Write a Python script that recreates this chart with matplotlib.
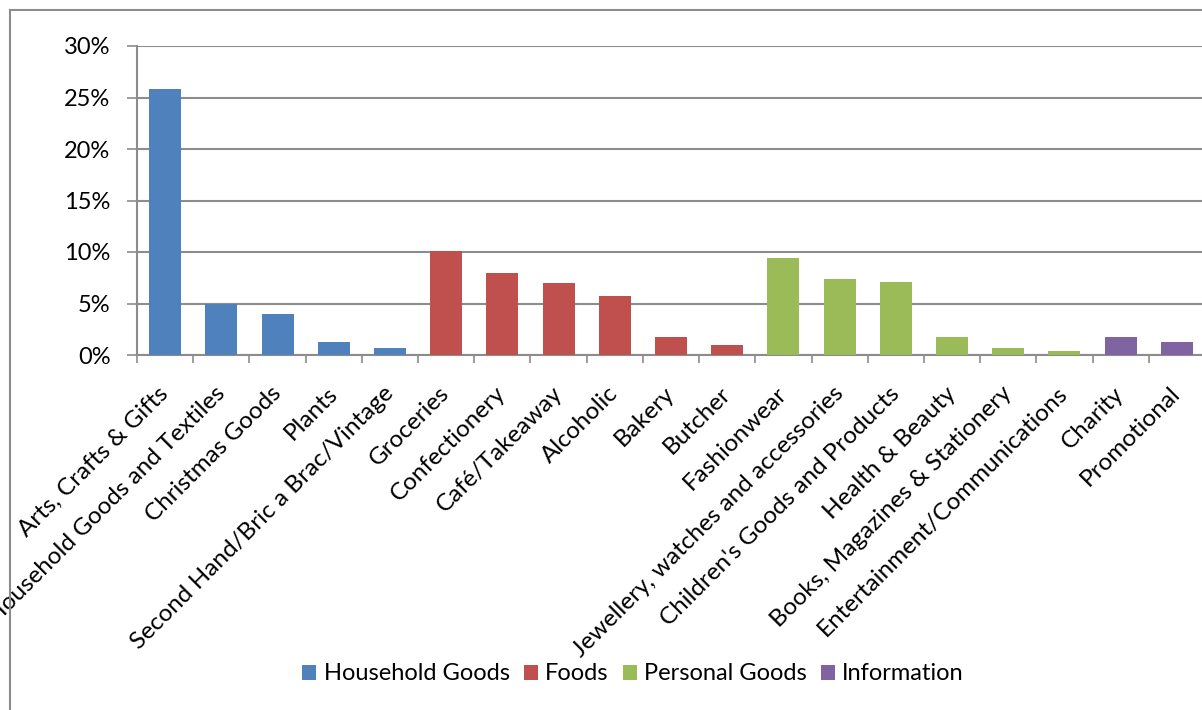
import matplotlib
matplotlib.use("Agg")
import matplotlib.pyplot as plt
from matplotlib.lines import Line2D
from matplotlib.patches import Patch

plt.rcParams['font.family'] = ['Lato', 'DejaVu Sans']

categories = [
    "Arts, Crafts & Gifts", "Household Goods and Textiles", "Christmas Goods",
    "Plants", "Second Hand/Bric a Brac/Vintage", "Groceries", "Confectionery",
    "Café/Takeaway", "Alcoholic", "Bakery", "Butcher", "Fashionwear",
    "Jewellery, watches and accessories", "Children's Goods and Products",
    "Health & Beauty", "Books, Magazines & Stationery",
    "Entertainment/Communications", "Charity", "Promotional",
]
values = [25.8, 5.0, 4.0, 1.3, 0.7, 10.1, 8.0, 7.0, 5.7, 1.7, 1.0,
          9.4, 7.4, 7.1, 1.7, 0.7, 0.35, 1.7, 1.3]
groups = ["Household Goods"] * 5 + ["Foods"] * 6 + ["Personal Goods"] * 6 + ["Information"] * 2
group_names = ["Household Goods", "Foods", "Personal Goods", "Information"]
group_colors = {"Household Goods": "#4f81bd", "Foods": "#c0504d",
                "Personal Goods": "#9bbb59", "Information": "#8064a2"}
y_ticks = [0, 5, 10, 15, 20, 25, 30]

W, H = 1202, 710
fig = plt.figure(figsize=(W / 100, H / 100), dpi=100)
ax = fig.add_axes([137 / W, 1 - 355 / H, (1205 - 137) / W, (355 - 46) / H])

grid_c = "#8c8c8c"
fs = 17
x = list(range(len(categories)))
ax.bar(x, values, width=0.57, color=[group_colors[g] for g in groups], zorder=3)

ax.set_xlim(-0.5, len(categories) - 0.5)
ax.set_ylim(0, 30)
ax.set_yticks(y_ticks)
ax.set_yticklabels([f"{v}%" for v in y_ticks], fontsize=fs)
ax.yaxis.grid(True, color=grid_c, linewidth=1.5, zorder=0)
ax.tick_params(axis='y', length=7, width=1.2, color=grid_c, pad=12)

# category boundary ticks
ax.set_xticks([i - 0.5 for i in range(len(categories) + 1)], minor=False)
ax.set_xticklabels([])
ax.tick_params(axis='x', which='major', length=6, width=1.2, color=grid_c)
# rotated category labels
ax.set_xticks([i - 0.13 for i in x], minor=True)
ax.set_xticklabels(categories, minor=True, rotation=45, ha='right',
                   rotation_mode='anchor', fontsize=17.5)
ax.tick_params(axis='x', which='minor', length=0, pad=20)

for s in ['top', 'right']:
    ax.spines[s].set_visible(False)
for s in ['left', 'bottom']:
    ax.spines[s].set_color(grid_c)
    ax.spines[s].set_linewidth(1.5)

handles = [Patch(facecolor=group_colors[g], label=g) for g in group_names]
fig.legend(handles=handles, loc='center', bbox_to_anchor=(633 / W, 1 - 674 / H),
           ncol=4, frameon=False, fontsize=fs, handlelength=0.6, handleheight=0.6,
           handletextpad=0.3, columnspacing=0.6)

# outer chart frame
fig.add_artist(Line2D([10 / W, 10 / W], [0, 1 - 10 / H], color=grid_c, lw=1.5,
                      transform=fig.transFigure))
fig.add_artist(Line2D([10 / W, 1], [1 - 10 / H, 1 - 10 / H], color=grid_c, lw=1.5,
                      transform=fig.transFigure))

fig.savefig("out.png", dpi=100, facecolor="white")
